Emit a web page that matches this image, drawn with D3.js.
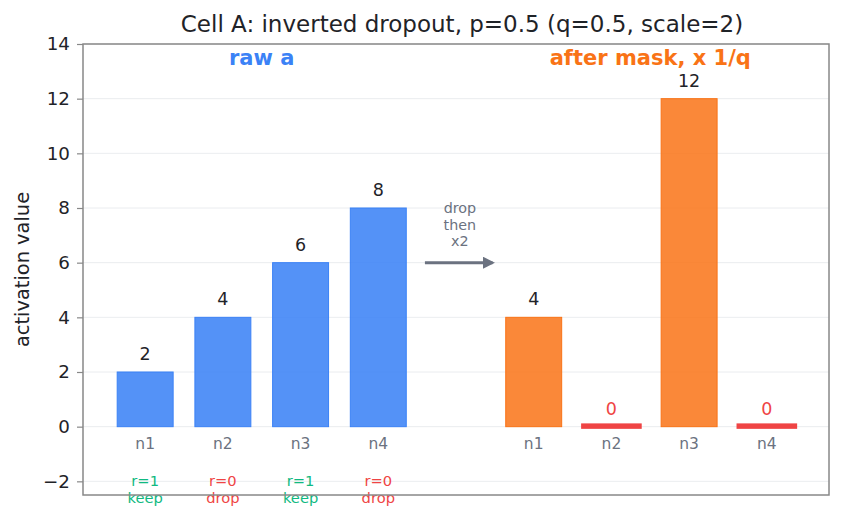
<!DOCTYPE html>
<html>
<head>
<meta charset="utf-8">
<script src="https://cdn.jsdelivr.net/npm/d3@7/dist/d3.min.js"></script>
<style>
  body { margin: 0; background: #fff; }
  svg { font-family: "DejaVu Sans", sans-serif; }
</style>
</head>
<body>
<svg id="chart" width="856" height="521"></svg>
<script>
// data
var neurons = ["n1", "n2", "n3", "n4"];
var rawValues = [2, 4, 6, 8];
var maskBits = [1, 0, 1, 0];
var maskWords = ["keep", "drop", "keep", "drop"];
var afterValues = [4, 0, 12, 0];
var rawPos = [0, 1, 2, 3];
var afterPos = [5, 6, 7, 8];
var yTicks = [-2, 0, 2, 4, 6, 8, 10, 12, 14];

var svg = d3.select("#chart");
var margin = {top: 44, right: 27, bottom: 26, left: 83};
var width = 856 - margin.left - margin.right,
    height = 521 - margin.top - margin.bottom;

var x = d3.scaleLinear().domain([-0.8, 8.8]).range([0, width]);
var y = d3.scaleLinear().domain([-2.5, 14]).range([height, 0]);
var bw = x(0.72) - x(0);

var blue = "#3b82f6", orange = "#f97316", red = "#ef4444", green = "#10b981";
var ink = "#1f2328", grey = "#6b7280";

var g = svg.append("g")
    .attr("transform", "translate(" + margin.left + "," + margin.top + ")");

// grid
g.selectAll("line.grid")
    .data(yTicks)
    .enter().append("line")
    .attr("class", "grid")
    .attr("x1", 0).attr("x2", width)
    .attr("y1", d => y(d)).attr("y2", d => y(d))
    .attr("stroke", "#e5e7eb")
    .attr("stroke-width", 0.8);

// raw bars
g.selectAll("rect.raw")
    .data(rawValues)
    .enter().append("rect")
    .attr("class", "raw")
    .attr("x", (d, i) => x(rawPos[i]) - bw / 2)
    .attr("y", d => y(d))
    .attr("width", bw)
    .attr("height", d => y(0) - y(d))
    .attr("fill", blue)
    .attr("fill-opacity", 0.87)
    .attr("stroke", blue)
    .attr("stroke-width", 1);

// after-mask bars (zeros drawn as a thin red strip)
var zw = x(0.78) - x(0);
g.selectAll("rect.after")
    .data(afterValues)
    .enter().append("rect")
    .attr("class", "after")
    .attr("x", (d, i) => x(afterPos[i]) - (d === 0 ? zw : bw) / 2)
    .attr("y", d => d === 0 ? y(0.12) : y(d))
    .attr("width", d => d === 0 ? zw : bw)
    .attr("height", d => d === 0 ? y(-0.08) - y(0.12) : y(0) - y(d))
    .attr("fill", d => d === 0 ? red : orange)
    .attr("fill-opacity", d => d === 0 ? 1 : 0.85)
    .attr("stroke", d => d === 0 ? "none" : orange)
    .attr("stroke-width", 1);

// value labels
g.selectAll("text.rawval")
    .data(rawValues)
    .enter().append("text")
    .attr("x", (d, i) => x(rawPos[i]))
    .attr("y", d => y(d) - 12)
    .attr("text-anchor", "middle")
    .attr("font-size", 17.5)
    .attr("fill", ink)
    .text(d => d);

g.selectAll("text.afterval")
    .data(afterValues)
    .enter().append("text")
    .attr("x", (d, i) => x(afterPos[i]))
    .attr("y", d => y(d) - 12)
    .attr("text-anchor", "middle")
    .attr("font-size", 17.5)
    .attr("fill", d => d === 0 ? red : ink)
    .text(d => d);

// neuron names under both groups
var allPos = rawPos.concat(afterPos);
g.selectAll("text.name")
    .data(allPos)
    .enter().append("text")
    .attr("x", d => x(d))
    .attr("y", y(-0.62))
    .attr("dy", "0.35em")
    .attr("text-anchor", "middle")
    .attr("font-size", 15.5)
    .attr("fill", grey)
    .text((d, i) => neurons[i % 4]);

// mask annotations
var maskG = g.selectAll("g.mask")
    .data(maskBits)
    .enter().append("g")
    .attr("class", "mask");
maskG.append("text")
    .attr("x", (d, i) => x(rawPos[i]))
    .attr("y", y(-2))
    .attr("dy", "0.35em")
    .attr("text-anchor", "middle")
    .attr("font-size", 14.7)
    .attr("fill", d => d ? green : red)
    .text(d => "r=" + d);
maskG.append("text")
    .attr("x", (d, i) => x(rawPos[i]))
    .attr("y", y(-2) + 17)
    .attr("dy", "0.35em")
    .attr("text-anchor", "middle")
    .attr("font-size", 14.7)
    .attr("fill", d => d ? green : red)
    .text((d, i) => maskWords[i]);

// group headers
g.append("text")
    .attr("x", x(1.5)).attr("y", y(13.5))
    .attr("dy", "0.35em")
    .attr("text-anchor", "middle")
    .attr("font-size", 21).attr("font-weight", "bold")
    .attr("fill", blue)
    .text("raw a");
g.append("text")
    .attr("x", x(6.5)).attr("y", y(13.5))
    .attr("dy", "0.35em")
    .attr("text-anchor", "middle")
    .attr("font-size", 21).attr("font-weight", "bold")
    .attr("fill", orange)
    .text("after mask, x 1/q");

// arrow
svg.append("defs").append("marker")
    .attr("id", "head")
    .attr("viewBox", "0 0 10 10")
    .attr("refX", 8).attr("refY", 5)
    .attr("markerWidth", 4).attr("markerHeight", 4)
    .attr("orient", "auto")
    .append("path")
    .attr("d", "M0,0 L10,5 L0,10 z")
    .attr("fill", grey);
g.append("line")
    .attr("x1", x(3.6)).attr("x2", x(4.47))
    .attr("y1", y(6)).attr("y2", y(6))
    .attr("stroke", grey)
    .attr("stroke-width", 3)
    .attr("marker-end", "url(#head)");
["drop", "then", "x2"].forEach(function(t, i) {
    g.append("text")
        .attr("x", x(4.05))
        .attr("y", y(8) + i * 16.5)
        .attr("dy", "0.35em")
        .attr("text-anchor", "middle")
        .attr("font-size", 14.3)
        .attr("fill", grey)
        .text(t);
});

// y axis
var yAxis = g.append("g")
    .call(d3.axisLeft(y).tickValues(yTicks).tickSize(6).tickPadding(7)
        .tickFormat(d => d < 0 ? "\u2212" + Math.abs(d) : d));
yAxis.select(".domain").remove();
yAxis.selectAll("line").attr("stroke", "#888").attr("stroke-width", 1.2);
yAxis.selectAll("text").attr("font-size", 18.3).attr("fill", ink)
    .attr("font-family", "DejaVu Sans, sans-serif");

// frame
g.append("rect")
    .attr("width", width).attr("height", height)
    .attr("fill", "none")
    .attr("stroke", "#888")
    .attr("stroke-width", 1.5);

svg.append("text")
    .attr("transform", "translate(22," + (margin.top + height / 2) + ") rotate(-90)")
    .attr("text-anchor", "middle")
    .attr("dy", "0.35em")
    .attr("font-size", 19.4)
    .attr("fill", ink)
    .text("activation value");

svg.append("text")
    .attr("x", 462).attr("y", 32)
    .attr("text-anchor", "middle")
    .attr("font-size", 23)
    .attr("fill", ink)
    .text("Cell A: inverted dropout, p=0.5 (q=0.5, scale=2)");
</script>
</body>
</html>
